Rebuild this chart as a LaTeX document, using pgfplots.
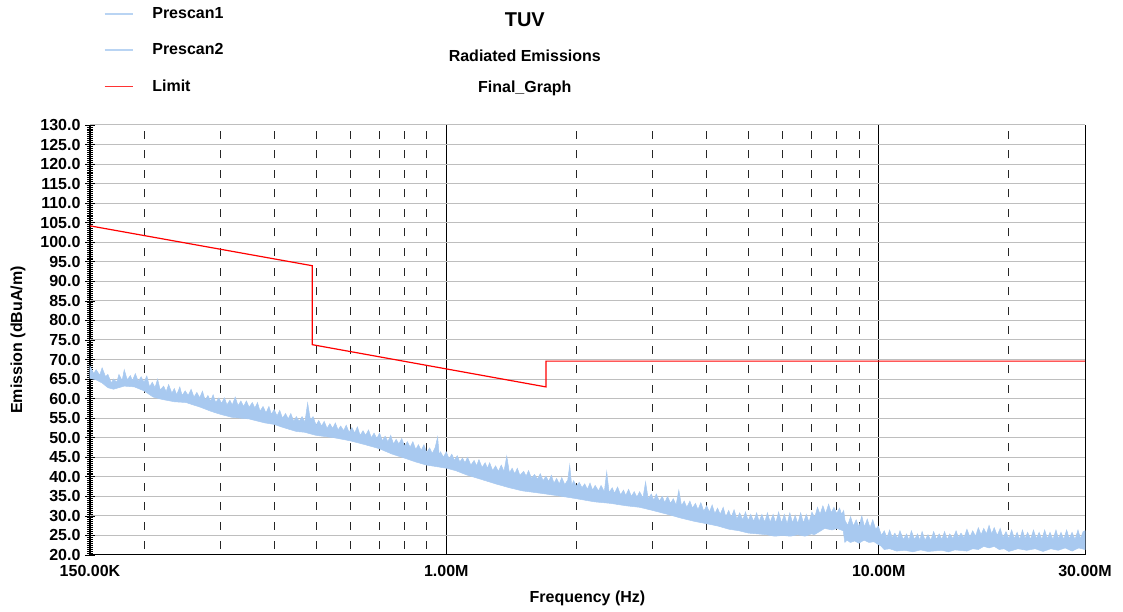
\documentclass[border=0pt]{standalone}
\usepackage{fontspec}
\setmainfont{Liberation Sans}
\usepackage{pgfplots}
\pgfplotsset{compat=1.18}
\definecolor{scan}{RGB}{168,201,240}
\definecolor{hgrid}{RGB}{190,190,190}
\newcommand{\lbl}{\bfseries\fontsize{16}{18}\selectfont}

\begin{document}
\begin{tikzpicture}
\begin{axis}[
    scale only axis,
    width=995pt, height=430pt,
    xmode=log, log basis x=10,
    xmin=0.15, xmax=30,
    ymin=20, ymax=130,
    xtick={0.15,1,10,30},
    xticklabels={150.00K,1.00M,10.00M,30.00M},
    minor xtick={0.2,0.3,0.4,0.5,0.6,0.7,0.8,0.9,2,3,4,5,6,7,8,9,20},
    ytick={20,25,...,130},
    minor y tick num=9,
    xtick style={draw=none},
    ymajorgrids, xmajorgrids, xminorgrids,
    major grid style={hgrid, line width=1pt},
    x grid style={black, line width=0.8pt},
    minor x grid style={black!85, line width=0.8pt, dash pattern=on 8pt off 11.545pt, dash phase=13.75pt},
    axis x line*=bottom, axis y line*=left,
    x axis line style={-, black, line width=1pt},
    y axis line style={-, black, line width=1pt},
    ytick pos=left,
    tick align=center,
    major tick length=10pt, minor tick length=6pt,
    ytick style={black, line width=0.8pt},
    /pgf/number format/.cd, fixed, fixed zerofill, precision=1, assume math mode=true,
    /pgfplots/.cd,
    ticklabel style={font=\lbl},
    yticklabel style={xshift=-1pt},
    xticklabel style={yshift=-2pt},
    xlabel={Frequency (Hz)},
    ylabel={Emission (dBuA/m)},
    xlabel style={font=\lbl, at={(axis description cs:0.5,-0.1)}, anchor=center},
    ylabel style={font=\lbl, at={(axis description cs:-0.0724,0.5)}, anchor=center},
    legend style={draw=none, fill=none, font=\lbl, at={(axis description cs:0.014,1.278)},
                  anchor=north west, row sep=19.5pt, inner sep=0pt},
    legend cell align=left,
    legend image code/.code={\draw[#1] (0pt,0pt) -- (28pt,0pt); \path (45pt,0pt);},
    clip=false,
]
\addlegendimage{scan!80, line width=1.2pt}
\addlegendentry{Prescan1}
\addlegendimage{scan!80, line width=1.2pt}
\addlegendentry{Prescan2}
\addlegendimage{red!80, line width=1.2pt}
\addlegendentry{Limit}

% Prescan2 band: upper edge left to right, lower edge right to left
\addplot[fill=scan, draw=scan, line width=0.5pt, forget plot] coordinates {
(0.150,68.3) (0.153,66.4) (0.155,67.4) (0.158,66.0) (0.160,67.9) (0.163,65.6)
(0.165,66.2) (0.168,64.0) (0.170,65.0) (0.173,64.2) (0.175,66.2) (0.178,64.6)
(0.180,67.4) (0.183,64.8) (0.186,65.9) (0.188,64.6) (0.191,66.4) (0.194,64.4)
(0.197,65.6) (0.200,64.2) (0.203,65.8) (0.206,63.0) (0.209,64.2) (0.212,62.8)
(0.215,65.0) (0.218,62.2) (0.222,63.2) (0.225,61.8) (0.228,63.6) (0.232,61.4)
(0.235,62.6) (0.238,61.0) (0.242,63.0) (0.245,60.8) (0.249,62.0) (0.253,60.8)
(0.257,62.4) (0.261,60.4) (0.265,61.6) (0.269,60.2) (0.273,61.9) (0.277,59.6)
(0.281,60.8) (0.285,59.4) (0.289,61.0) (0.293,59.0) (0.298,60.2) (0.302,58.8)
(0.307,60.2) (0.311,58.4) (0.316,59.6) (0.320,58.4) (0.325,60.4) (0.330,58.2)
(0.335,59.4) (0.340,58.0) (0.345,59.4) (0.350,57.8) (0.356,59.0) (0.361,57.6)
(0.366,59.0) (0.371,56.8) (0.377,58.0) (0.383,56.4) (0.389,58.0) (0.394,56.0)
(0.400,57.2) (0.406,55.6) (0.412,57.0) (0.418,55.0) (0.425,56.2) (0.431,54.8)
(0.437,56.2) (0.444,54.2) (0.450,55.4) (0.457,54.2) (0.464,55.4) (0.471,54.0)
(0.478,58.9) (0.485,54.6) (0.492,55.4) (0.500,53.2) (0.507,54.4) (0.515,53.0)
(0.522,54.2) (0.530,52.4) (0.538,53.6) (0.546,52.4) (0.554,53.8) (0.562,52.0)
(0.570,53.0) (0.579,51.8) (0.587,53.2) (0.596,51.4) (0.605,52.6) (0.614,51.2)
(0.623,52.8) (0.632,50.6) (0.642,51.8) (0.651,50.6) (0.661,52.0) (0.671,50.0)
(0.681,51.2) (0.691,49.8) (0.701,51.2) (0.712,49.2) (0.722,50.4) (0.733,49.0)
(0.744,50.6) (0.755,48.4) (0.766,49.6) (0.777,48.4) (0.789,49.8) (0.801,47.8)
(0.813,49.0) (0.825,47.6) (0.837,49.0) (0.850,47.0) (0.862,48.2) (0.875,46.8)
(0.888,48.2) (0.901,46.2) (0.915,47.4) (0.928,46.0) (0.942,47.4) (0.955,50.2)
(0.963,45.6) (0.970,46.4) (0.985,45.0) (1.00,46.4) (1.015,44.6) (1.03,45.8)
(1.045,44.2) (1.06,45.4) (1.075,43.8) (1.09,44.8) (1.105,43.6) (1.12,45.0)
(1.14,43.0) (1.16,44.2) (1.175,42.8) (1.19,44.4) (1.21,42.4) (1.23,43.6)
(1.245,42.2) (1.26,43.6) (1.28,41.6) (1.30,42.8) (1.32,41.4) (1.34,43.0)
(1.36,41.4) (1.38,45.3) (1.40,41.0) (1.42,42.2) (1.44,40.8) (1.46,42.2)
(1.48,40.4) (1.51,41.4) (1.53,40.2) (1.55,41.6) (1.575,39.6) (1.60,40.6)
(1.625,39.4) (1.65,40.8) (1.675,39.0) (1.70,40.2) (1.725,38.8) (1.75,40.4)
(1.775,38.4) (1.80,39.6) (1.825,38.2) (1.85,39.8) (1.88,38.0) (1.91,39.2)
(1.93,43.0) (1.95,37.8) (1.97,39.0) (2.00,37.6) (2.03,38.6) (2.06,37.2)
(2.09,38.2) (2.12,36.8) (2.15,38.4) (2.18,36.6) (2.21,37.8) (2.25,36.4)
(2.28,37.8) (2.32,36.2) (2.35,41.3) (2.38,36.0) (2.42,37.2) (2.45,35.8)
(2.49,37.4) (2.53,35.4) (2.57,36.6) (2.60,35.2) (2.64,36.8) (2.68,35.0)
(2.72,36.2) (2.76,34.8) (2.80,36.2) (2.85,34.6) (2.89,38.7) (2.93,34.4)
(2.98,35.6) (3.02,34.0) (3.06,35.6) (3.11,33.8) (3.16,35.0) (3.20,33.4)
(3.25,35.0) (3.30,33.2) (3.35,34.4) (3.40,32.8) (3.45,36.6) (3.50,32.6)
(3.55,33.8) (3.60,32.2) (3.66,33.8) (3.71,32.0) (3.77,33.2) (3.82,31.6)
(3.88,33.4) (3.94,31.2) (4.00,32.6) (4.06,31.0) (4.12,32.8) (4.18,30.6)
(4.24,32.0) (4.30,30.4) (4.37,32.2) (4.43,29.8) (4.50,31.4) (4.56,29.6)
(4.63,31.6) (4.70,29.2) (4.77,30.8) (4.85,29.0) (4.92,31.0) (4.99,28.8)
(5.06,30.4) (5.14,28.6) (5.22,30.8) (5.29,28.6) (5.37,30.4) (5.45,28.4)
(5.53,30.8) (5.61,28.4) (5.70,30.4) (5.78,28.2) (5.87,31.0) (5.96,28.2)
(6.05,30.4) (6.14,28.0) (6.23,30.8) (6.32,28.2) (6.41,30.2) (6.50,28.0)
(6.60,30.8) (6.70,28.2) (6.80,30.4) (6.90,28.4) (7.01,31.0) (7.11,29.6)
(7.22,32.2) (7.32,30.4) (7.43,32.6) (7.54,30.6) (7.66,33.0) (7.77,30.8)
(7.88,32.2) (8.00,30.6) (8.12,32.0) (8.21,30.4) (8.30,31.4) (8.36,28.8)
(8.48,27.6) (8.61,29.8) (8.74,27.4) (8.87,29.0) (9.00,27.2) (9.14,30.0)
(9.27,27.2) (9.41,29.2) (9.55,27.0) (9.69,29.0) (9.84,26.6) (9.98,27.4)
(10.15,25.0) (10.3,26.2) (10.45,24.4) (10.6,26.4) (10.75,24.4) (10.9,25.6)
(11.05,24.2) (11.2,26.2) (11.4,24.0) (11.6,25.4) (11.75,23.8) (11.9,26.2)
(12.1,24.0) (12.3,25.4) (12.45,23.8) (12.6,26.0) (12.8,23.8) (13.0,25.2)
(13.2,23.8) (13.4,26.0) (13.6,24.0) (13.8,25.4) (14.0,24.0) (14.2,26.0)
(14.4,24.0) (14.6,25.4) (14.85,24.2) (15.1,26.2) (15.3,24.4) (15.5,25.6)
(15.75,24.4) (16.0,26.6) (16.25,24.6) (16.5,26.2) (16.75,24.8) (17.0,27.0)
(17.25,25.2) (17.5,26.8) (17.75,25.4) (18.0,27.6) (18.25,25.4) (18.5,27.0)
(18.8,25.0) (19.1,26.8) (19.4,24.4) (19.7,26.0) (20.0,24.2) (20.3,26.4)
(20.6,24.2) (20.9,25.8) (21.2,24.0) (21.5,26.4) (21.8,24.2) (22.1,25.8)
(22.45,24.0) (22.8,26.4) (23.15,24.2) (23.5,25.8) (23.85,24.0) (24.2,26.4)
(24.55,24.2) (24.9,25.8) (25.3,24.0) (25.7,26.4) (26.05,24.2) (26.4,25.8)
(26.8,24.0) (27.2,26.4) (27.6,24.2) (28.0,25.8) (28.45,24.0) (28.9,26.4)
(29.3,24.2) (29.7,26.0) (30.0,26.2)
(30.0,21.4) (29.0,21.8) (28.0,21.0) (27.0,21.8) (26.0,21.2) (25.0,21.6)
(24.0,20.9) (23.0,21.6) (22.0,21.2) (21.0,21.6) (20.0,20.9) (19.5,21.6)
(19.0,21.4) (18.5,22.2) (18.0,21.8) (17.5,22.2) (17.0,21.4) (16.5,21.6)
(16.0,21.0) (15.0,21.3) (14.5,20.8) (14.0,21.2) (13.0,20.9) (12.5,21.3)
(12.0,20.8) (11.5,21.2) (11.0,21.0) (10.6,21.6) (10.3,21.4) (10.1,22.4)
(10.0,22.6) (9.75,23.4) (9.5,23.2) (9.25,23.8) (9.0,23.0) (8.8,23.6)
(8.6,23.2) (8.45,23.8) (8.35,23.2) (8.28,26.2) (8.0,26.8) (7.8,26.4)
(7.5,26.8) (7.3,26.0) (7.1,25.2) (7.0,25.4) (6.75,24.8) (6.5,25.2)
(6.25,24.8) (6.0,25.0) (5.75,24.8) (5.5,25.2) (5.25,25.4) (5.0,25.6)
(4.75,26.2) (4.5,26.6) (4.25,27.4) (4.0,28.0) (3.75,28.6) (3.5,29.4)
(3.25,30.4) (3.0,31.4) (2.8,32.2) (2.6,32.6) (2.4,33.2) (2.2,33.6)
(2.0,34.4) (1.9,34.8) (1.8,35.2) (1.7,35.6) (1.6,36.0) (1.5,36.4)
(1.4,37.2) (1.3,38.2) (1.2,39.4) (1.12,40.4) (1.05,41.6) (1.0,42.2)
(0.95,42.6) (0.90,43.0) (0.85,43.8) (0.80,44.8) (0.75,45.8) (0.70,47.2)
(0.65,48.2) (0.60,49.2) (0.55,50.0) (0.50,50.6) (0.47,51.4) (0.45,51.6)
(0.42,52.6) (0.40,53.4) (0.38,53.8) (0.35,54.8) (0.32,55.2) (0.30,56.0)
(0.285,56.8) (0.27,57.8) (0.25,59.0) (0.235,59.2) (0.22,59.8) (0.21,60.4)
(0.20,62.0) (0.19,63.0) (0.18,63.2) (0.17,62.4) (0.165,62.8) (0.16,64.0)
(0.155,64.8) (0.150,65.2)
} -- cycle;

% Limit
\addplot[red, line width=1.2pt, forget plot] coordinates {
(0.15,104.2) (0.49,94.0) (0.49,73.8) (1.70,63.0) (1.70,69.6) (30,69.6)
};

\node[font=\bfseries\fontsize{20}{22}\selectfont] at (axis description cs:0.437,1.244) {TUV};
\node[font=\lbl] at (axis description cs:0.437,1.160) {Radiated Emissions};
\node[font=\lbl] at (axis description cs:0.437,1.086) {Final\_Graph};
\end{axis}
\pgfresetboundingbox
\useasboundingbox (current axis.south west) ++(-90pt,-57pt) rectangle ++(1123pt,612pt);
\end{tikzpicture}
\end{document}
